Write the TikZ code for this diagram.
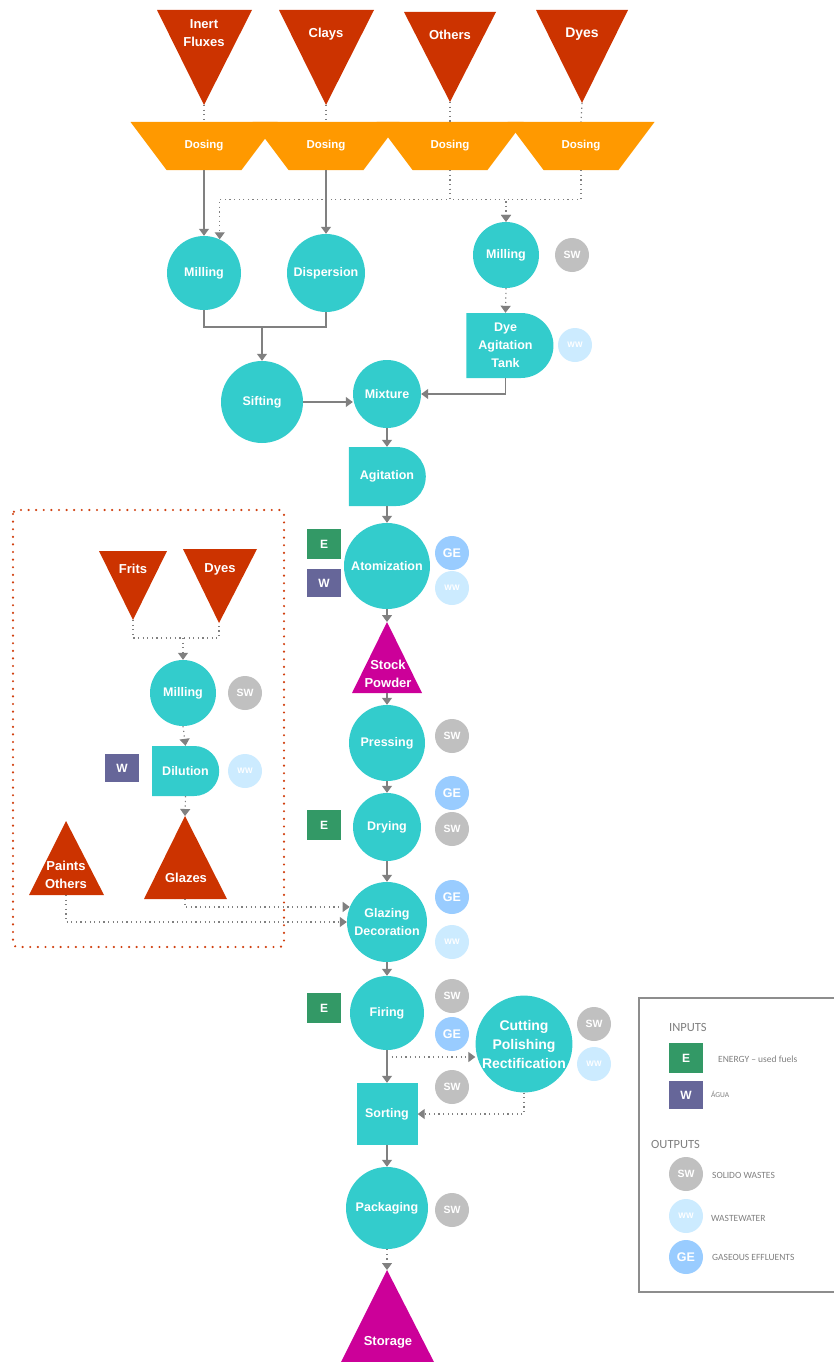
\documentclass[tikz,border=0pt]{standalone}
\usepackage{fontspec}
\setmainfont{Liberation Sans}
\newfontfamily\legendfont{Carlito}
\usetikzlibrary{arrows.meta,shapes.geometric,shapes.misc}

\definecolor{procteal}{HTML}{33CCCC}
\definecolor{rawred}{HTML}{CC3300}
\definecolor{doseorange}{HTML}{FF9900}
\definecolor{stockpink}{HTML}{CC0099}
\definecolor{energygreen}{HTML}{339966}
\definecolor{waterpurple}{HTML}{666699}
\definecolor{swgrey}{HTML}{C0C0C0}
\definecolor{wwblue}{HTML}{CCEBFF}
\definecolor{geblue}{HTML}{99CCFF}
\definecolor{linegrey}{HTML}{808080}
\definecolor{legendgrey}{HTML}{7F7F7F}
\definecolor{framered}{HTML}{D04010}

\tikzset{
  proc/.style={circle, fill=procteal, text=white, align=center, inner sep=0pt,
    font=\bfseries\fontsize{12.5}{18}\selectfont},
  tank/.style={rounded rectangle, rounded rectangle left arc=none, fill=procteal,
    text=white, align=center, inner sep=0pt, font=\bfseries\fontsize{12.5}{18}\selectfont},
  dosing/.style={rectangle, minimum width=75, minimum height=48, inner sep=0pt,
    text=white, font=\bfseries\fontsize{11.5}{12}\selectfont},
  tritext/.style={text=white, align=center, inner sep=0pt, font=\bfseries\fontsize{13}{18}\selectfont},
  inbox/.style={rectangle, minimum width=34, minimum height=30, inner sep=0pt,
    text=white, font=\bfseries\fontsize{12}{12}\selectfont},
  outdot/.style={circle, minimum size=34, inner sep=0pt, text=white},
  swdot/.style={outdot, fill=swgrey, font=\bfseries\fontsize{10.5}{10}\selectfont},
  wwdot/.style={outdot, fill=wwblue, font=\bfseries\fontsize{8}{8}\selectfont},
  gedot/.style={outdot, fill=geblue, font=\bfseries\fontsize{12.5}{12}\selectfont},
  flow/.style={draw=linegrey, line width=1.3pt, -{Triangle[width=10pt,length=7pt]}},
  flowline/.style={draw=linegrey, line width=1.3pt},
  dotflow/.style={draw=linegrey, line width=1.2pt, dash pattern=on 1.2pt off 3.4pt,
    -{Triangle[width=10pt,length=7pt]}},
  dotline/.style={draw=linegrey, line width=1.2pt, dash pattern=on 1.2pt off 3.4pt},
  legtext/.style={anchor=west, inner sep=0pt, text=legendgrey, font=\legendfont\fontsize{9.5}{9}\selectfont}
}

\begin{document}
\begin{tikzpicture}[x=1pt, y=-1pt]
\useasboundingbox (0,0) rectangle (834,1362);

% Raw materials
\fill[rawred] (157,10) -- (252,10) -- (204,105) -- cycle;
\fill[rawred] (279,10) -- (374,10) -- (326,105) -- cycle;
\fill[rawred] (404,12) -- (496,12) -- (450,102) -- cycle;
\fill[rawred] (536,10) -- (628,10) -- (582,103) -- cycle;
\node[tritext] (fluxes) at (204,33) {Inert\\Fluxes};
\node[tritext] (clays) at (326,34) {Clays};
\node[tritext] (others) at (450,35) {Others};
\node[tritext, font=\bfseries\fontsize{14}{18}\selectfont] (dyes) at (582,34) {Dyes};
\coordinate (fluxestip) at (204,105);
\coordinate (claystip) at (326,105);
\coordinate (otherstip) at (450,102);
\coordinate (dyestip) at (582,103);

% Dosing
\foreach \x in {204,326,450,581}
  \fill[doseorange] (\x-73.5,122) -- (\x+73.5,122) -- (\x+37.5,170) -- (\x-37.5,170) -- cycle;
\node[dosing] (dos1) at (204,146) {Dosing};
\node[dosing] (dos2) at (326,146) {Dosing};
\node[dosing] (dos3) at (450,146) {Dosing};
\node[dosing] (dos4) at (581,146) {Dosing};
\draw[dotline] (fluxestip) -- (dos1.north);
\draw[dotline] (claystip) -- (dos2.north);
\draw[dotline] (otherstip) -- (dos3.north);
\draw[dotline] (dyestip) -- (dos4.north);

% Body preparation
\node[proc, minimum size=74] (mill) at (204,273) {Milling};
\node[proc, minimum size=78] (disp) at (326,273) {Dispersion};
\node[proc, minimum size=66] (dyemill) at (506,255) {Milling};
\node[swdot] (sw1) at (572,255) {SW};
\node[tank, minimum width=87, minimum height=65] (tank) at (505.5,345.5) {Dye\\Agitation\\Tank};
\node[wwdot] (ww1) at (575,345) {WW};
\node[proc, minimum size=82] (sift) at (262,402) {Sifting};
\node[proc, minimum size=68] (mix) at (387,394) {Mixture};
\coordinate (join) at (262,327);

\draw[flow] (dos1.south) -- (mill.north);
\draw[flow] (dos2.south) -- (disp.north);
\draw[dotflow] (dos3.south) -- ++(0,29) -| (mill.65);
\draw[dotflow] (dos3.south) -- ++(0,29) -| (dyemill.north);
\draw[dotflow] (dos4.south) -- ++(0,29) -| (dyemill.north);
\draw[dotflow] (dyemill.south) -- (tank.north);
\draw[flowline] (mill.south) |- (join) -| (disp.south);
\draw[flow] (join) -- (sift.north);
\draw[flow] (sift.east) -- (sift.east -| mix.west);
\draw[flow] (tank.south) |- (mix.east);

% Main line
\node[tank, minimum width=77, minimum height=59] (agit) at (387,476.5) {Agitation};
\node[proc, minimum size=86] (atom) at (387,566) {Atomization};
\node[inbox, fill=energygreen] (e1) at (324,544) {E};
\node[inbox, fill=waterpurple, minimum height=28] (w1) at (324,583) {W};
\node[gedot] (ge1) at (452,553) {GE};
\node[wwdot] (ww2) at (452,588) {WW};
\fill[stockpink] (387,622) -- (422,693) -- (352,693) -- cycle;
\node[tritext, font=\bfseries\fontsize{13}{18}\selectfont] (stock) at (388,674) {Stock\\Powder};
\coordinate (stocktip) at (387,622);
\coordinate (stockbase) at (387,693);
\node[proc, minimum size=76] (press) at (387,743) {Pressing};
\node[swdot] (sw2) at (452,736) {SW};
\node[proc, minimum size=68] (dry) at (387,827) {Drying};
\node[inbox, fill=energygreen] (e2) at (324,825) {E};
\node[gedot] (ge2) at (452,793) {GE};
\node[swdot] (sw3) at (452,829) {SW};
\node[proc, minimum size=80] (glaz) at (387,922) {Glazing\\Decoration};
\node[gedot] (ge3) at (452,897) {GE};
\node[wwdot] (ww3) at (452,942) {WW};
\node[proc, minimum size=74] (fire) at (387,1013) {Firing};
\node[inbox, fill=energygreen] (e3) at (324,1008) {E};
\node[swdot] (sw4) at (452,996) {SW};
\node[gedot] (ge4) at (452,1034) {GE};
\node[proc, minimum size=92, font=\bfseries\fontsize{14}{19}\selectfont] (cut) at (524,1044) {Cutting\\Polishing\\Rectification};
\node[swdot] (sw5) at (594,1024) {SW};
\node[wwdot] (ww4) at (594,1064) {WW};
\node[rectangle, fill=procteal, text=white, minimum width=61, minimum height=62, inner sep=0pt,
  font=\bfseries\fontsize{12.5}{18}\selectfont] (sort) at (387,1114) {Sorting};
\node[swdot] (sw6) at (452,1087) {SW};
\node[proc, minimum size=82] (pack) at (387,1208) {Packaging};
\node[swdot] (sw7) at (452,1210) {SW};
\fill[stockpink] (387,1270) -- (435,1364) -- (340,1364) -- cycle;
\node[tritext] (storage) at (388,1342) {Storage};
\coordinate (storagetip) at (387,1270);
\coordinate (fireout) at (387,1057);

\draw[flow] (mix.south) -- (agit.north);
\draw[flow] (agit.south) -- (atom.north);
\draw[flow] (atom.south) -- (stocktip);
\draw[flow] (stockbase) -- (press.north);
\draw[flow] (press.south) -- (dry.north);
\draw[flow] (dry.south) -- (glaz.north);
\draw[flow] (glaz.south) -- (fire.north);
\draw[flow] (fire.south) -- (sort.north);
\draw[dotflow] (fireout) -- (fireout -| cut.west);
\draw[dotflow] (cut.south) |- (sort.east);
\draw[flow] (sort.south) -- (pack.north);
\draw[dotflow] (pack.south) -- (storagetip);

% Glaze preparation
\draw[framered, line width=2.4pt, dash pattern=on 0pt off 7.6pt, line cap=round, rounded corners=4pt]
  (13,510) rectangle (284,947);
\fill[rawred] (99,551) -- (167,551) -- (133,620) -- cycle;
\fill[rawred] (183,549) -- (257,549) -- (219,623) -- cycle;
\node[tritext] (frits) at (133,569) {Frits};
\node[tritext] (dyes2) at (220,569) {Dyes};
\coordinate (fritstip) at (133,620);
\coordinate (dyes2tip) at (219,623);
\coordinate (fritsjoin) at (183,638);
\node[proc, minimum size=66] (glazemill) at (183,693) {Milling};
\node[swdot] (sw8) at (245,693) {SW};
\node[tank, minimum width=67, minimum height=50] (dil) at (185.5,771) {Dilution};
\node[inbox, fill=waterpurple, minimum height=28] (w2) at (122,768) {W};
\node[wwdot] (ww5) at (245,771) {WW};
\fill[rawred] (185,816) -- (227,899) -- (144,899) -- cycle;
\node[tritext] (glazes) at (186,878) {Glazes};
\fill[rawred] (66,821) -- (104,895) -- (29,895) -- cycle;
\node[tritext] (paints) at (66,875) {Paints\\Others};
\coordinate (glazestip) at (185,816);
\coordinate (glazesbase) at (185,899);
\coordinate (paintsbase) at (66,895);

\draw[dotline] (fritstip) |- (fritsjoin) -| (dyes2tip);
\draw[dotflow] (fritsjoin) -- (glazemill.north);
\draw[dotflow] (glazemill.south) -- (dil.north);
\draw[dotflow] (dil.south) -- (glazestip);
\draw[dotflow] (glazesbase) |- (glaz.158);
\draw[dotflow] (paintsbase) |- (glaz.west);

% Legend
\draw[linegrey!90, line width=1.6pt] (639,998) rectangle (840,1292);
\node[legtext, font=\legendfont\fontsize{12.5}{12}\selectfont] (inputs) at (669,1027) {INPUTS};
\node[inbox, fill=energygreen] (le) at (686,1058) {E};
\node[legtext] (letext) at (718,1059) {ENERGY – used fuels};
\node[inbox, fill=waterpurple, minimum height=28] (lw) at (686,1095) {W};
\node[legtext, font=\legendfont\fontsize{7.5}{8}\selectfont] (lwtext) at (711,1094) {ÁGUA};
\node[legtext, font=\legendfont\fontsize{12.5}{12}\selectfont] (outputs) at (651,1144) {OUTPUTS};
\node[swdot] (lsw) at (686,1174) {SW};
\node[legtext] (lswtext) at (712,1175) {SOLIDO WASTES};
\node[wwdot] (lww) at (686,1216) {WW};
\node[legtext] (lwwtext) at (711,1218) {WASTEWATER};
\node[gedot] (lge) at (686,1257) {GE};
\node[legtext] (lgetext) at (712,1257) {GASEOUS EFFLUENTS};
\end{tikzpicture}
\end{document}
